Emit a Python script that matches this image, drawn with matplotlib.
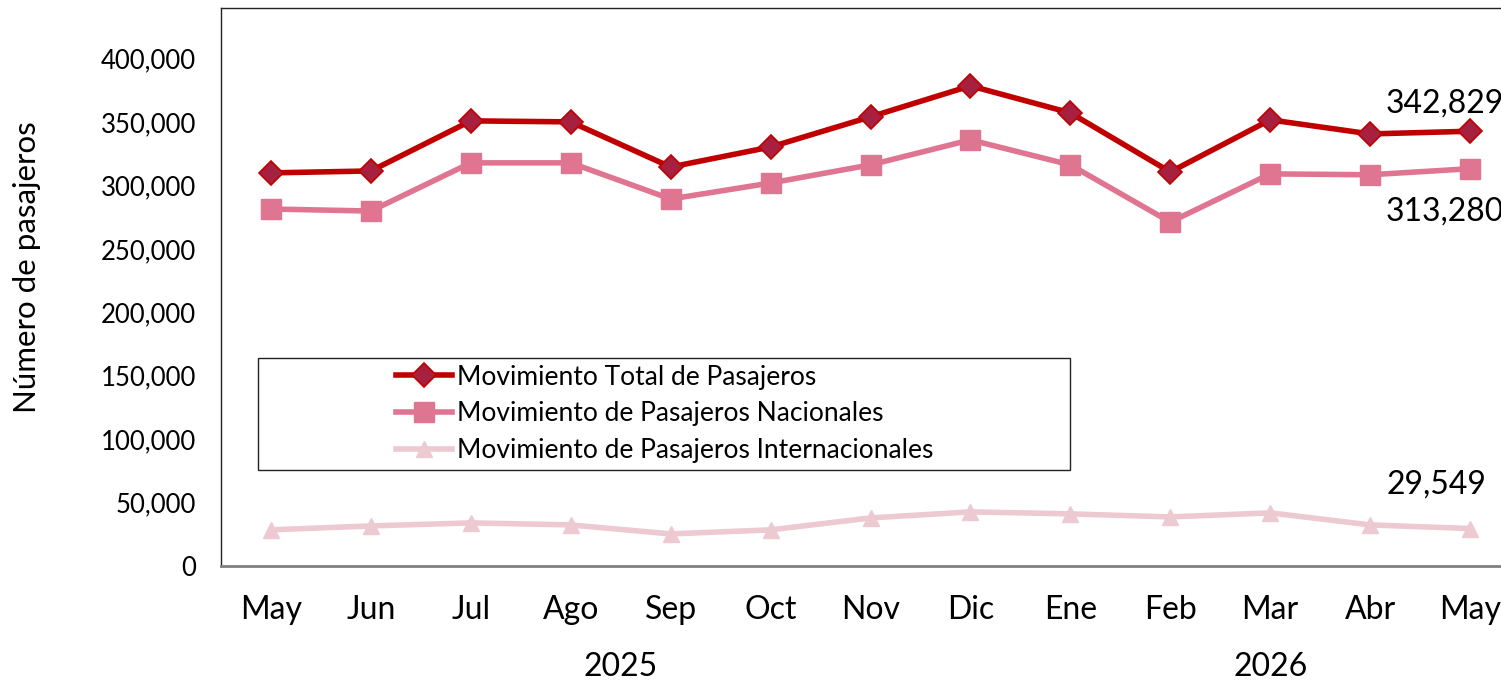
import numpy as np
import matplotlib
matplotlib.use('Agg')
import matplotlib.pyplot as plt
from matplotlib.patches import Rectangle

plt.rcParams['font.family'] = ['Lato', 'DejaVu Sans']

meses = ['May', 'Jun', 'Jul', 'Ago', 'Sep', 'Oct', 'Nov', 'Dic', 'Ene', 'Feb', 'Mar', 'Abr', 'May']
anios = ['2025', '2026']
total = [310000, 311500, 351000, 350200, 314600, 330400, 354200, 378600, 357300, 310700, 351800, 340700, 342829]
nacional = [281500, 279900, 317900, 317900, 289400, 302000, 316300, 336000, 316300, 271200, 309200, 308500, 313280]
internacional = [28500, 31600, 34000, 32400, 25300, 28500, 37900, 42700, 41100, 38700, 41900, 32400, 29549]

W, H = 1501, 684
fig = plt.figure(figsize=(W / 100, H / 100), dpi=100)
ax = fig.add_axes([221 / W, (H - 566) / H, (1520 - 221) / W, (566 - 8) / H])

x = np.arange(len(meses))
ax.plot(x, total, color='#C00000', lw=4.0, marker='D', ms=12,
        mfc='#A8203F', mec='#C00000', mew=1.2, label='Movimiento Total de Pasajeros', zorder=4)
ax.plot(x, nacional, color='#E07591', lw=4.0, marker='s', ms=14,
        mfc='#E07591', mec='#E07591', label='Movimiento de Pasajeros Nacionales', zorder=3)
ax.plot(x, internacional, color='#EDC9D2', lw=4.0, marker='^', ms=12,
        mfc='#EDC9D2', mec='#EDC9D2', label='Movimiento de Pasajeros Internacionales', zorder=2)

ax.set_xlim(-0.5, 12.5)
ax.set_ylim(0, 440000)
ax.set_yticks(np.arange(0, 400001, 50000))
ax.set_yticklabels([f'{v:,}' for v in range(0, 400001, 50000)], fontsize=18.5)
ax.set_xticks(x)
ax.set_xticklabels(meses, fontsize=23)
ax.tick_params(length=0)
ax.tick_params(axis='y', pad=18)
ax.tick_params(axis='x', pad=21)

fig.text(27 / W, (H - 267) / H, 'Número de pasajeros', rotation=90, ha='center', va='center', fontsize=22.5)

for s in ['left', 'top', 'right']:
    ax.spines[s].set_color('#222222')
    ax.spines[s].set_linewidth(1.0)
ax.spines['bottom'].set_color('#808080')
ax.spines['bottom'].set_linewidth(2.0)

# años bajo los meses
ax.text(3.5, -(667 - 566) / 558, anios[0], transform=ax.get_xaxis_transform(), ha='center', va='center', fontsize=23)
ax.text(10, -(667 - 566) / 558, anios[1], transform=ax.get_xaxis_transform(), ha='center', va='center', fontsize=23)

# etiquetas de los últimos valores
ax.annotate(f'{total[-1]:,}', (x[-1], total[-1]), xytext=(-61, 20), textcoords='offset points',
            fontsize=23, ha='left', va='center')
ax.annotate(f'{nacional[-1]:,}', (x[-1], nacional[-1]), xytext=(-61, -31), textcoords='offset points',
            fontsize=23, ha='left', va='center')
ax.annotate(f'{internacional[-1]:,}', (x[-1], internacional[-1]), xytext=(-60, 32), textcoords='offset points',
            fontsize=23, ha='left', va='center')

fig.patches.append(Rectangle((258 / W, (H - 470) / H), (1070 - 258) / W, (470 - 358) / H,
                             transform=fig.transFigure, fill=False, ec='#222222', lw=1.0))
leg = fig.legend(loc='center', bbox_to_anchor=(665 / W, (H - 414) / H), frameon=False,
                 fontsize=19, handlelength=2.1, handletextpad=0.2, labelspacing=0.45)

fig.savefig('out.png', dpi=100)
